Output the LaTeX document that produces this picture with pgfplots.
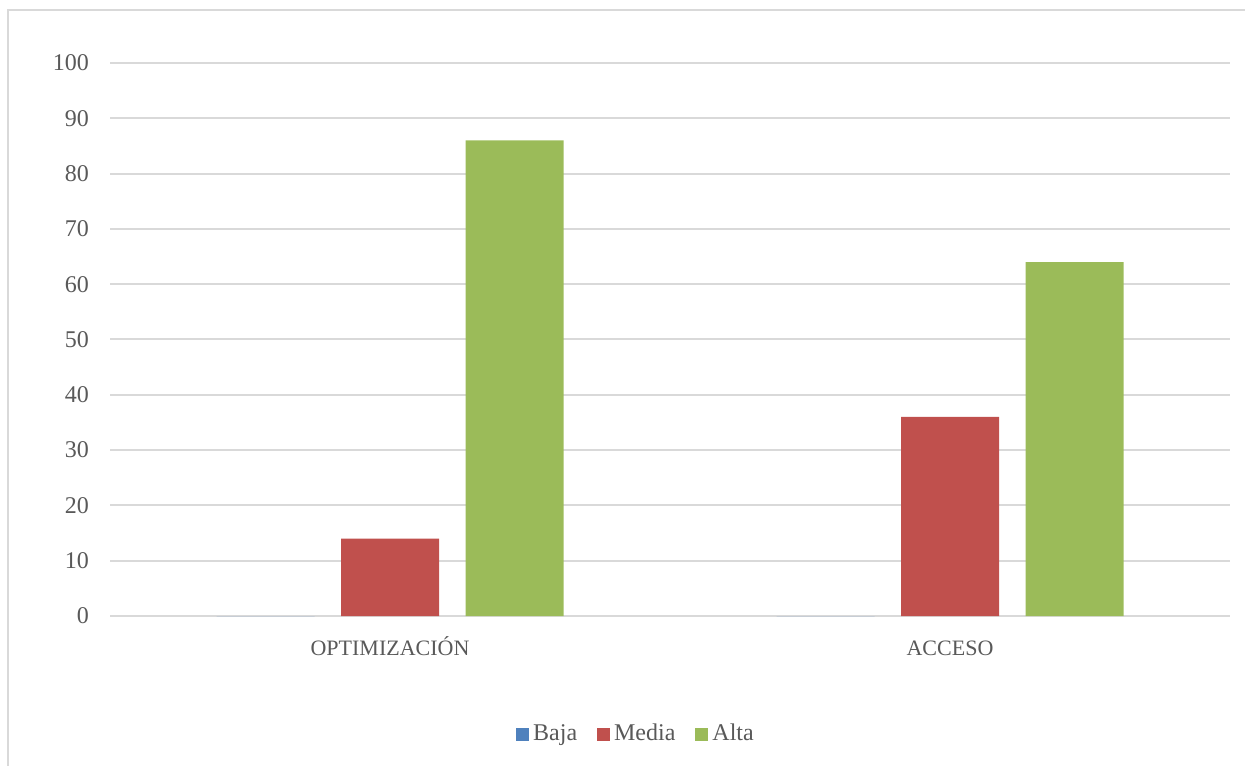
\documentclass[border=0pt]{standalone}
\usepackage{pgfplots}
\pgfplotsset{compat=1.18}
\usepackage{fontspec}
\setmainfont{Liberation Serif}
\definecolor{baja}{HTML}{4F81BD}
\definecolor{media}{HTML}{C0504D}
\definecolor{alta}{HTML}{9BBB59}
\definecolor{gridc}{HTML}{D9D9D9}
\definecolor{txt}{HTML}{595959}
\begin{document}
\begin{tikzpicture}
\useasboundingbox (0,0) rectangle (622.5pt,382.5pt);
\draw[gridc, line width=1pt] (4pt,-10pt) -- (4pt,377.5pt) -- (640pt,377.5pt);
\begin{axis}[
  at={(55pt,74.5pt)}, anchor=south west,
  scale only axis, width=560pt, height=276.5pt,
  xmin=-0.5, xmax=1.5, ymin=0, ymax=100,
  axis line style={draw=none},
  ybar=13.25pt, bar width=49pt,
  xtick={0,1}, xticklabels={OPTIMIZACIÓN, ACCESO},
  ytick={0,10,...,100},
  major tick length=0pt,
  ymajorgrids, grid style={gridc, line width=1pt},
  /pgf/number format/assume math mode=true,
  yticklabel style={font=\fontsize{12}{14}\selectfont, text=txt, xshift=-7pt},
  xticklabel style={font=\fontsize{11}{13}\selectfont, text=txt, yshift=-6pt, text height=10pt, text depth=2pt},
  legend columns=3,
  legend style={draw=none, at={(0.4705,-0.2134)}, anchor=center,
    font=\fontsize{12}{14}\selectfont, text=txt,
    /tikz/every even column/.append style={column sep=8pt}},
  legend image code/.code={\fill[#1] (-1pt,-3.25pt) rectangle (5.5pt,3.25pt);},
]
\addplot[fill=baja, draw=none] coordinates {(0,0) (1,0)};
\addplot[fill=media, draw=none] coordinates {(0,14) (1,36)};
\addplot[fill=alta, draw=none] coordinates {(0,86) (1,64)};
\legend{Baja, Media, Alta}
\end{axis}
\end{tikzpicture}
\end{document}
